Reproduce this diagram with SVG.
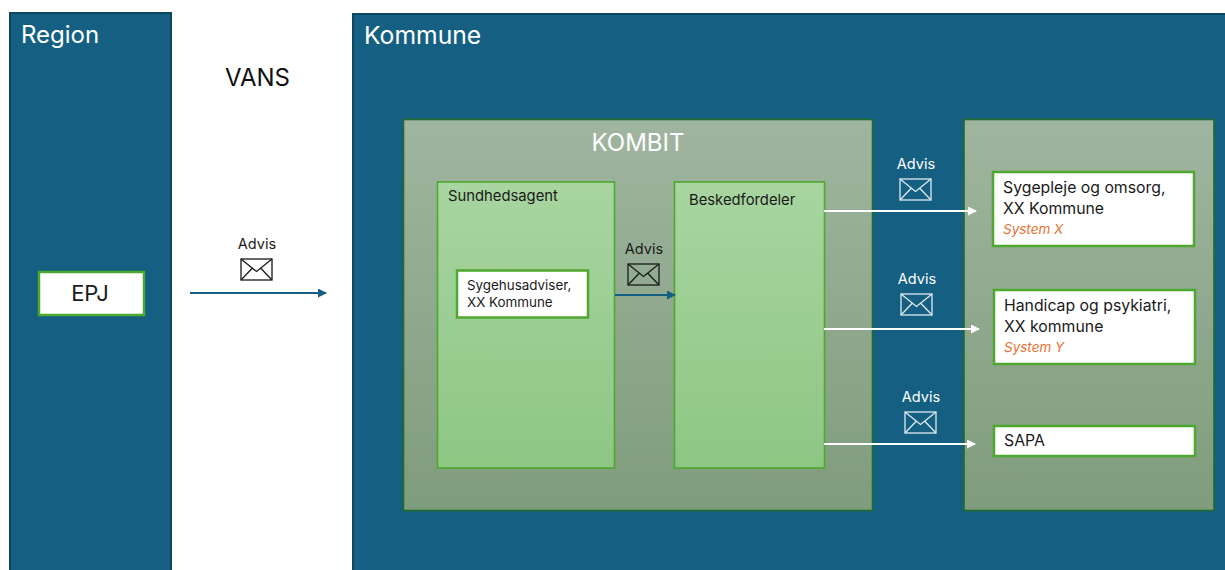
<svg xmlns="http://www.w3.org/2000/svg" width="1225" height="570" viewBox="0 0 1225 570">
<style>
text{font-family:Inter,"Noto Sans","Liberation Sans",sans-serif;fill:#1a1a1a}
.w{fill:#fff}
.big{font-size:24px}
.lane{fill:#156082;stroke:#0f4761;stroke-width:2}
.panel{fill:url(#pg);stroke:#1f6b2a;stroke-width:1.600}
.sub{fill:url(#sg);stroke:#4ea72e;stroke-width:1.600}
.card{fill:#fff;stroke:#4ea72e;stroke-width:2.500}
.t15{font-size:15.800px}
.t13{font-size:13.400px}
.t14{font-size:14.800px}
.adv{font-size:14.500px}
.sys{font-size:13.500px;font-style:italic;fill:#e97132}
.conn{fill:none;stroke-width:2}
.mail{fill:none;stroke-width:1.300}
.k{stroke:#1a1a1a}
.l{stroke:#dfeaf0}
</style>
<defs>
<linearGradient id="pg" x1="0" y1="0" x2="0" y2="1"><stop offset="0" stop-color="#a0b5a0"/><stop offset="1" stop-color="#7f9c7c"/></linearGradient>
<linearGradient id="sg" x1="0" y1="0" x2="0" y2="1"><stop offset="0" stop-color="#a8d5a0"/><stop offset="1" stop-color="#8ec684"/></linearGradient>
<marker id="ab" markerUnits="userSpaceOnUse" markerWidth="9" markerHeight="9" refX="8" refY="4.500" orient="auto"><path d="M0 0L9 4.500L0 9z" fill="#156082"/></marker>
<marker id="aw" markerUnits="userSpaceOnUse" markerWidth="9" markerHeight="9" refX="8" refY="4.500" orient="auto"><path d="M0 0L9 4.500L0 9z" fill="#fff"/></marker>
<g id="env"><rect x="0" y="0" width="31" height="21"/><path d="M0 0L15.500 12.500L31 0M0 21L11 9.500M31 21L20 9.500"/></g>
</defs>
<rect width="1225" height="570" fill="#fff"/>
<g id="region"><rect class="lane" x="10" y="13" width="161" height="562"/><text class="big w" x="21" y="43">Region</text></g>
<g id="vans"><text class="big" x="225" y="86" style="fill:#111">VANS</text></g>
<g id="kommune"><rect class="lane" x="353" y="14" width="880" height="561"/><text class="big w" x="364" y="44" style="font-size:24.700px">Kommune</text></g>
<g id="kombit"><rect class="panel" x="403.500" y="119.500" width="469" height="391"/><text class="big w" x="638" y="151" text-anchor="middle">KOMBIT</text></g>
<g id="systems"><rect class="panel" x="964" y="119.500" width="250" height="391"/></g>
<g id="sundhedsagent"><rect class="sub" x="437.500" y="182" width="177" height="286"/><text class="t14" x="448" y="201">Sundhedsagent</text></g>
<g id="beskedfordeler"><rect class="sub" x="674.500" y="182" width="150" height="286"/><text class="t14" x="689" y="205">Beskedfordeler</text></g>
<g id="sygehusadviser"><rect class="card" x="457" y="270.500" width="131" height="47"/><text class="t13" x="467" y="290">Sygehusadviser,</text><text class="t13" x="467" y="307">XX Kommune</text></g>
<g id="epj"><rect class="card" x="39" y="272" width="105" height="43"/><text x="90" y="301" font-size="22" text-anchor="middle">EPJ</text></g>
<g id="sygepleje"><rect class="card" x="993" y="172" width="201" height="74"/><text class="t15" x="1003" y="193">Sygepleje og omsorg,</text><text class="t15" x="1003" y="214">XX Kommune</text><text class="sys" x="1003" y="234">System X</text></g>
<g id="handicap"><rect class="card" x="994" y="290" width="201" height="74"/><text class="t15" x="1004" y="311">Handicap og psykiatri,</text><text class="t15" x="1004" y="332">XX kommune</text><text class="sys" x="1004" y="352">System Y</text></g>
<g id="sapa"><rect class="card" x="994" y="426" width="201" height="30"/><text class="t15" x="1004" y="446">SAPA</text></g>
<g id="connectors">
<path class="conn" stroke="#156082" marker-end="url(#ab)" d="M190 293H326"/>
<path class="conn" stroke="#156082" marker-end="url(#ab)" d="M615 295H675"/>
<path class="conn" stroke="#fff" marker-end="url(#aw)" d="M824 211H976"/>
<path class="conn" stroke="#fff" marker-end="url(#aw)" d="M824 329H979"/>
<path class="conn" stroke="#fff" marker-end="url(#aw)" d="M824 444H975"/>
</g>
<g id="label-1"><text class="adv" x="257" y="249" text-anchor="middle">Advis</text><use href="#env" class="mail k" x="241" y="259"/></g>
<g id="label-2"><text class="adv" x="644" y="254" text-anchor="middle">Advis</text><use href="#env" class="mail k" x="628" y="264"/></g>
<g id="label-3"><text class="adv w" x="916" y="169" text-anchor="middle">Advis</text><use href="#env" class="mail l" x="900" y="179"/></g>
<g id="label-4"><text class="adv w" x="917" y="284" text-anchor="middle">Advis</text><use href="#env" class="mail l" x="901" y="294"/></g>
<g id="label-5"><text class="adv w" x="921" y="402" text-anchor="middle">Advis</text><use href="#env" class="mail l" x="905" y="412"/></g>
</svg>
